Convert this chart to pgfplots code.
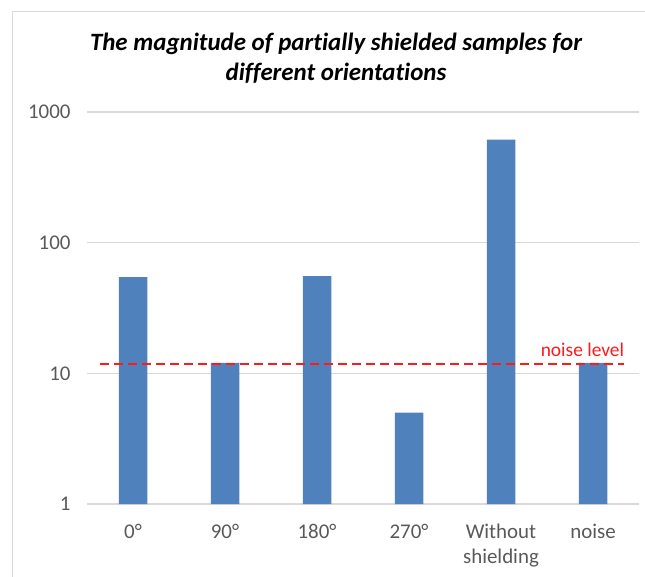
\documentclass[border=0pt]{standalone}
\usepackage{pgfplots}
\pgfplotsset{compat=1.18}
\usepackage{fontspec}
\setmainfont{Carlito}[Ligatures=NoCommon]
\definecolor{barblue}{HTML}{4F81BD}
\definecolor{gridgrey}{HTML}{D9D9D9}
\definecolor{labgrey}{HTML}{595959}
\definecolor{noisered}{HTML}{FF1A1A}
\begin{document}
\begin{tikzpicture}
\useasboundingbox (0,0) rectangle (645bp,577bp);
\draw[gridgrey, line width=1bp] (12bp,0) -- (12bp,565bp) -- (645bp,565bp);
\node[font=\fontsize{25}{30}\selectfont\bfseries\itshape, anchor=base] at (336bp, 526bp) {The magnitude of partially shielded samples for};
\node[font=\fontsize{25}{30}\selectfont\bfseries\itshape, anchor=base] at (336bp, 496bp) {different orientations};
\begin{axis}[
  at={(87bp,73bp)}, anchor=south west,
  scale only axis, width=552bp, height=392bp,
  ymode=log, log basis y=10,
  ymin=1, ymax=1000, xmin=-0.5, xmax=5.5,
  enlargelimits=false,
  ybar, bar width=28.5bp,
  axis line style={draw=none},
  tick style={draw=none},
  ymajorgrids, yminorgrids=false,
  major grid style={gridgrey, line width=1.5bp},
  ytick={1,10,100,1000}, yticklabels={1,10,100,1000},
  minor ytick={},
  y tick label style={font=\fontsize{21}{25}\selectfont, text=labgrey, xshift=-13bp},
  xtick={0,1,2,3,4,5},
  xticklabels={0°,90°,180°,270°,Without\\shielding,noise},
  x tick label style={font=\fontsize{21}{25}\selectfont, text=labgrey, align=center, yshift=-12bp},
  clip=false,
]
\addplot[fill=barblue, draw=none, bar shift=0pt] coordinates {
  (0,54.5) (1,12.0) (2,55.4) (3,5.0) (4,615) (5,12.0)
};
\addplot[ybar=0pt, sharp plot, noisered, line width=2bp, dash pattern=on 9bp off 5bp, forget plot] coordinates {
  (-0.36,11.7) (5.34,11.7)
};
\node[anchor=east, text=noisered, font=\fontsize{19.5}{23}\selectfont, inner sep=0pt] at (axis cs:5.34,15.2) {noise level};
\end{axis}
\end{tikzpicture}
\end{document}
